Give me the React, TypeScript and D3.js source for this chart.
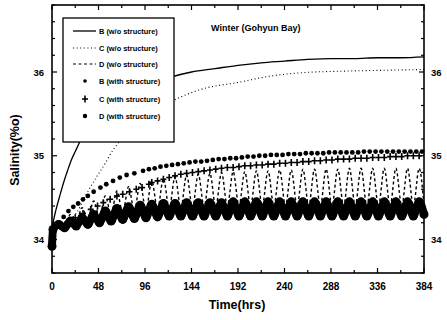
import React, { useEffect, useRef } from 'react';
import * as d3 from 'd3';

// B (w/o structure) - solid line
const bNoHours = [0, 2, 4, 8, 12, 16, 20, 24, 32, 40, 48, 72, 96, 120, 144, 168, 192, 216, 240, 264, 288, 312, 336, 360, 384];
const bNoValues = [34.12, 34.25, 34.35, 34.52, 34.68, 34.82, 34.95, 35.05, 35.24, 35.37, 35.47, 35.68, 35.83, 35.93, 36.0, 36.04, 36.08, 36.11, 36.13, 36.15, 36.16, 36.16, 36.17, 36.17, 36.18];

// C (w/o structure) - dotted line
const cNoHours = [0, 12, 18, 26, 34, 44, 55, 63, 67, 80, 96, 112, 127, 153, 194, 225, 256, 300, 340, 384];
const cNoValues = [34.12, 34.17, 34.23, 34.33, 34.51, 34.71, 34.91, 35.07, 35.13, 35.3, 35.46, 35.58, 35.67, 35.79, 35.88, 35.95, 35.99, 36.01, 36.02, 36.03];

// D (w/o structure) - dashed, tidal peaks and troughs
const dNoHours = [0, 7, 13, 19, 25, 31, 37, 43, 49, 55, 61, 67, 73, 79, 85, 91, 97, 103, 109, 115, 121, 127, 133, 139, 145, 151, 157, 163, 169, 175, 181, 187, 193, 199, 205, 211, 217, 223, 229, 235, 241, 247, 253, 259, 265, 271, 277, 283, 289, 295, 301, 307, 313, 319, 325, 331, 337, 343, 349, 355, 361, 367, 373, 379, 384];
const dNoValues = [34.12, 34.2, 34.16, 34.3, 34.2, 34.38, 34.24, 34.46, 34.27, 34.52, 34.3, 34.58, 34.32, 34.63, 34.34, 34.67, 34.35, 34.7, 34.36, 34.73, 34.37, 34.75, 34.38, 34.77, 34.38, 34.78, 34.39, 34.79, 34.39, 34.8, 34.4, 34.81, 34.4, 34.81, 34.4, 34.82, 34.4, 34.82, 34.4, 34.83, 34.4, 34.83, 34.4, 34.84, 34.4, 34.84, 34.4, 34.84, 34.4, 34.84, 34.4, 34.85, 34.4, 34.85, 34.4, 34.85, 34.4, 34.85, 34.4, 34.85, 34.4, 34.85, 34.4, 34.85, 34.4];

// B (with structure) - dots
const bStHours = [0, 6, 12, 17, 22, 27, 32, 37, 43, 50, 56, 63, 70, 77, 85, 94, 100, 106, 112, 118, 124, 130, 136, 142, 148, 154, 160, 166, 172, 178, 184, 190, 196, 202, 208, 214, 220, 226, 232, 238, 244, 250, 256, 262, 268, 274, 280, 286, 292, 298, 304, 310, 316, 322, 328, 334, 340, 346, 352, 358, 364, 370, 376, 382];
const bStValues = [34.12, 34.2, 34.27, 34.34, 34.39, 34.43, 34.48, 34.52, 34.57, 34.62, 34.66, 34.7, 34.74, 34.77, 34.79, 34.82, 34.84, 34.85, 34.87, 34.88, 34.89, 34.9, 34.91, 34.92, 34.93, 34.93, 34.94, 34.95, 34.96, 34.96, 34.97, 34.97, 34.98, 34.99, 34.99, 35.0, 35.0, 35.01, 35.01, 35.01, 35.02, 35.02, 35.02, 35.03, 35.03, 35.03, 35.03, 35.04, 35.04, 35.04, 35.04, 35.04, 35.04, 35.05, 35.05, 35.05, 35.05, 35.05, 35.05, 35.05, 35.05, 35.05, 35.05, 35.05];

// C (with structure) - crosses
const cStHours = [0, 8, 16, 24, 32, 40, 47, 53, 60, 67, 73, 80, 87, 93, 100, 103, 109, 115, 121, 127, 133, 139, 145, 151, 157, 163, 169, 175, 181, 187, 193, 199, 205, 211, 217, 223, 229, 235, 241, 247, 253, 259, 265, 271, 277, 283, 289, 295, 301, 307, 313, 319, 325, 331, 337, 343, 349, 355, 361, 367, 373, 379];
const cStValues = [34.12, 34.16, 34.21, 34.26, 34.31, 34.36, 34.4, 34.44, 34.48, 34.52, 34.54, 34.57, 34.6, 34.62, 34.66, 34.68, 34.7, 34.72, 34.74, 34.76, 34.78, 34.79, 34.8, 34.81, 34.82, 34.83, 34.84, 34.85, 34.86, 34.86, 34.87, 34.88, 34.88, 34.89, 34.89, 34.9, 34.9, 34.91, 34.91, 34.92, 34.92, 34.93, 34.93, 34.94, 34.94, 34.95, 34.95, 34.96, 34.96, 34.96, 34.97, 34.97, 34.97, 34.98, 34.98, 34.98, 34.99, 34.99, 34.99, 35.0, 35.0, 35.0];

// D (with structure) - dense dots forming a thick tidal band
const dStHours = [0, 1, 7, 13, 19, 25, 31, 37, 43, 49, 55, 61, 67, 73, 79, 85, 91, 97, 103, 109, 115, 121, 127, 133, 139, 145, 151, 157, 163, 169, 175, 181, 187, 193, 199, 205, 211, 217, 223, 229, 235, 241, 247, 253, 259, 265, 271, 277, 283, 289, 295, 301, 307, 313, 319, 325, 331, 337, 343, 349, 355, 361, 367, 373, 379, 384];
const dStValues = [33.92, 34.12, 34.18, 34.14, 34.22, 34.16, 34.26, 34.18, 34.3, 34.2, 34.34, 34.22, 34.37, 34.24, 34.39, 34.25, 34.41, 34.26, 34.42, 34.27, 34.43, 34.28, 34.43, 34.28, 34.44, 34.28, 34.44, 34.28, 34.44, 34.28, 34.44, 34.28, 34.45, 34.28, 34.45, 34.28, 34.45, 34.28, 34.45, 34.28, 34.45, 34.28, 34.45, 34.28, 34.45, 34.28, 34.45, 34.28, 34.45, 34.28, 34.45, 34.28, 34.45, 34.28, 34.45, 34.28, 34.45, 34.28, 34.45, 34.28, 34.45, 34.28, 34.45, 34.28, 34.45, 34.3];

const xTicks = [0, 48, 96, 144, 192, 240, 288, 336, 384];
const yTicks = [34, 35, 36];
const legendLabels = ['B (w/o structure)', 'C (w/o structure)', 'D (w/o structure)', 'B (with structure)', 'C (with structure)', 'D (with structure)'];

const FONT = '"Liberation Sans", Arial, sans-serif';

const App: React.FC = () => {
  const svgRef = useRef<SVGSVGElement>(null);

  useEffect(() => {
    if (!svgRef.current) return;
    const svg = d3.select(svgRef.current);
    svg.selectAll('*').remove();

    const x = d3.scaleLinear().domain([0, 384]).range([52, 424]);
    const y = d3.scaleLinear().domain([33.6, 36.8]).range([273, 5]);
    const [x0, x1] = x.range();
    const [y0, y1] = y.range();

    const pts = (hs: number[], vs: number[]) => hs.map((h, i) => [h, vs[i]] as [number, number]);
    const line = d3.line<[number, number]>().x(d => x(d[0])).y(d => y(d[1]));

    const plot = svg.append('g');

    // D (w/o structure), dashed
    plot.append('path')
      .datum(pts(dNoHours, dNoValues))
      .attr('d', line.curve(d3.curveMonotoneX))
      .attr('fill', 'none')
      .attr('stroke', '#000')
      .attr('stroke-width', 1.4)
      .attr('stroke-dasharray', '3,2.5');

    // D (with structure), thick band of dots
    const dSt = pts(dStHours, dStValues);
    plot.append('path')
      .datum(dSt)
      .attr('d', line.curve(d3.curveMonotoneX))
      .attr('fill', 'none')
      .attr('stroke', '#000')
      .attr('stroke-width', 8)
      .attr('stroke-linejoin', 'round');
    plot.selectAll('.dSt')
      .data(dSt)
      .enter()
      .append('circle')
      .attr('cx', d => x(d[0]))
      .attr('cy', d => y(d[1]))
      .attr('r', 4.5)
      .attr('fill', '#000');

    // C (with structure), crosses
    plot.selectAll('.cSt')
      .data(pts(cStHours, cStValues))
      .enter()
      .append('path')
      .attr('d', d => {
        const cx = x(d[0]), cy = y(d[1]);
        return `M${cx - 3},${cy}H${cx + 3}M${cx},${cy - 3.5}V${cy + 3.5}`;
      })
      .attr('stroke', '#000')
      .attr('stroke-width', 1.6);

    // B (with structure), dots
    plot.selectAll('.bSt')
      .data(pts(bStHours, bStValues))
      .enter()
      .append('circle')
      .attr('cx', d => x(d[0]))
      .attr('cy', d => y(d[1]))
      .attr('r', 2.4)
      .attr('fill', '#000');

    // B (w/o structure), solid
    plot.append('path')
      .datum(pts(bNoHours, bNoValues))
      .attr('d', line.curve(d3.curveMonotoneX))
      .attr('fill', 'none')
      .attr('stroke', '#000')
      .attr('stroke-width', 1.3);

    // C (w/o structure), dotted
    plot.append('path')
      .datum(pts(cNoHours, cNoValues))
      .attr('d', line.curve(d3.curveMonotoneX))
      .attr('fill', 'none')
      .attr('stroke', '#000')
      .attr('stroke-width', 1.1)
      .attr('stroke-dasharray', '1,2.6');

    // frame
    svg.append('rect')
      .attr('x', x0).attr('y', y1)
      .attr('width', x1 - x0).attr('height', y0 - y1)
      .attr('fill', 'none')
      .attr('stroke', '#000')
      .attr('stroke-width', 1.6);

    // ticks (inward on all four sides)
    const tk = svg.append('g').attr('stroke', '#000').attr('stroke-width', 1.2);
    d3.range(0, 385, 24).forEach(h => {
      const len = h % 48 === 0 ? 5 : 3;
      tk.append('line').attr('x1', x(h)).attr('x2', x(h)).attr('y1', y0).attr('y2', y0 - len);
      tk.append('line').attr('x1', x(h)).attr('x2', x(h)).attr('y1', y1).attr('y2', y1 + len);
    });
    d3.range(33.6, 36.81, 0.2).forEach(v => {
      const major = Math.abs(v - Math.round(v)) < 0.01;
      const len = major ? 5 : 3;
      tk.append('line').attr('x1', x0).attr('x2', x0 + len).attr('y1', y(v)).attr('y2', y(v));
      tk.append('line').attr('x1', x1).attr('x2', x1 - len).attr('y1', y(v)).attr('y2', y(v));
    });

    // tick labels
    svg.selectAll('.xl')
      .data(xTicks)
      .enter()
      .append('text')
      .attr('x', d => x(d))
      .attr('y', 290)
      .attr('text-anchor', 'middle')
      .style('font-family', FONT)
      .style('font-weight', 'bold')
      .style('font-size', '10px')
      .text(d => d);
    svg.selectAll('.yl')
      .data(yTicks)
      .enter()
      .append('text')
      .attr('x', 44)
      .attr('y', d => y(d) + 3.5)
      .attr('text-anchor', 'end')
      .style('font-family', FONT)
      .style('font-weight', 'bold')
      .style('font-size', '9.5px')
      .text(d => d);
    svg.selectAll('.yr')
      .data(yTicks)
      .enter()
      .append('text')
      .attr('x', 431)
      .attr('y', d => y(d) + 3.5)
      .attr('text-anchor', 'start')
      .style('font-family', FONT)
      .style('font-weight', 'bold')
      .style('font-size', '9.5px')
      .text(d => d);

    // axis titles
    svg.append('text')
      .attr('x', 237)
      .attr('y', 309)
      .attr('text-anchor', 'middle')
      .style('font-family', FONT)
      .style('font-weight', 'bold')
      .style('font-size', '12.5px')
      .text('Time(hrs)');
    svg.append('text')
      .attr('transform', 'translate(19,150) rotate(-90)')
      .attr('text-anchor', 'middle')
      .style('font-family', FONT)
      .style('font-weight', 'bold')
      .style('font-size', '12.5px')
      .text('Salinity(%o)');

    // title
    svg.append('text')
      .attr('x', 211)
      .attr('y', 31)
      .style('font-family', FONT)
      .style('font-weight', 'bold')
      .style('font-size', '9px')
      .text('Winter (Gohyun Bay)');

    // legend
    const lg = svg.append('g');
    lg.append('rect')
      .attr('x', 63).attr('y', 18)
      .attr('width', 111).attr('height', 124)
      .attr('fill', '#fff')
      .attr('stroke', '#000')
      .attr('stroke-width', 1.3);
    const rows = [31, 48, 64, 81, 99, 116];
    const dash = [null, '1,2.6', '3,2.5'];
    legendLabels.forEach((label, i) => {
      const ry = rows[i];
      if (i < 3) {
        const l = lg.append('line')
          .attr('x1', 73).attr('x2', 96).attr('y1', ry).attr('y2', ry)
          .attr('stroke', '#000')
          .attr('stroke-width', i === 0 ? 1.3 : 1.1);
        if (dash[i]) l.attr('stroke-dasharray', dash[i] as string);
      } else if (i === 4) {
        lg.append('path')
          .attr('d', `M82,${ry}H88M85,${ry - 3.5}V${ry + 3.5}`)
          .attr('stroke', '#000')
          .attr('stroke-width', 1.6);
      } else {
        lg.append('circle').attr('cx', 85).attr('cy', ry).attr('r', i === 3 ? 1.8 : 2.2).attr('fill', '#000');
      }
      lg.append('text')
        .attr('x', 99)
        .attr('y', ry + 2.6)
        .style('font-family', FONT)
        .style('font-weight', 'bold')
        .style('font-size', '7.4px')
        .text(label);
    });
  }, []);

  return (
    <svg
      ref={svgRef}
      width={447}
      height={320}
      style={{ position: 'absolute', left: 0, top: 0, background: '#fff' }}
    />
  );
};

export default App;
